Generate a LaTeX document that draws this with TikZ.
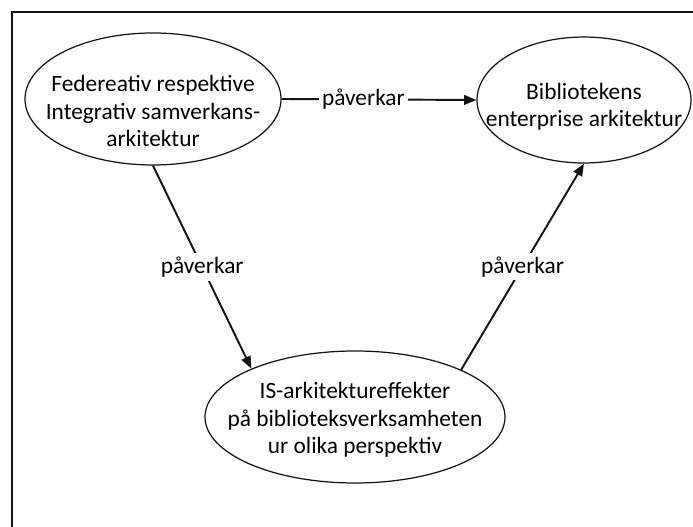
\documentclass[tikz,border=0pt]{standalone}
\usepackage{fontspec}
\setmainfont{Carlito}
\usepackage{tikz}
\usetikzlibrary{arrows.meta,shapes.geometric}
\definecolor{figline}{RGB}{20,20,20}
\tikzset{
  frm/.style ={draw=figline, line width=1.3pt},
  ell/.style ={draw=figline, line width=0.7pt, ellipse, inner sep=0pt},
  txt/.style ={font=\fontsize{13.3}{15.5}\selectfont, align=center, inner sep=1pt},
  lab/.style ={font=\fontsize{13.3}{15.5}\selectfont, fill=white, inner sep=2pt},
  ptr/.style ={draw=figline, line width=1.1pt, -{Triangle[length=7pt,width=5.5pt]}},
}
\begin{document}
\begin{tikzpicture}
  \useasboundingbox (0,0) rectangle (13.86,10.54);
  \draw[frm] (0.24,0) -- (0.24,10.30) -- (13.86,10.30);
  \node[ell,minimum width=5.12cm,minimum height=2.64cm] (fed) at (3.06,8.56) {};
  \node[txt] (fedtxt) at (3.06,8.32) {Federeativ respektive\\Integrativ samverkans-\\arkitektur};
  \node[ell,minimum width=4.28cm,minimum height=2.52cm] (bib) at (11.68,8.54) {};
  \node[txt] (bibtxt) at (11.68,8.40) {Bibliotekens\\enterprise arkitektur};
  \node[ell,minimum width=6.0cm,minimum height=2.64cm] (eff) at (7.10,2.20) {};
  \node[txt] (efftxt) at (7.10,2.14) {IS-arkitektureffekter\\på biblioteksverksamheten\\ur olika perspektiv};
  \draw[ptr] (fed.east) -- node[lab,pos=0.42] (lab1) {påverkar} (bib.west);
  \draw[ptr] (fed.south) -- node[lab] (lab2) {påverkar} (eff.155);
  \draw[ptr] (eff.24) -- node[lab] (lab3) {påverkar} (bib.south);
\end{tikzpicture}
\end{document}
